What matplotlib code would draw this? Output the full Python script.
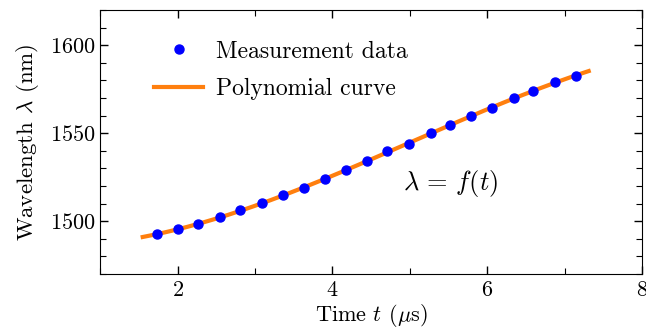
import numpy as np
import matplotlib
matplotlib.use("Agg")
import matplotlib.pyplot as plt
from matplotlib.ticker import MultipleLocator

plt.rcParams['font.family'] = ['cmr10', 'DejaVu Serif']
plt.rcParams['mathtext.fontset'] = 'cm'
plt.rcParams['axes.formatter.use_mathtext'] = True

# Measurement data
t_data = [1.735, 2.00, 2.27, 2.55, 2.81, 3.09, 3.36, 3.63, 3.91, 4.17,
          4.45, 4.71, 4.99, 5.27, 5.52, 5.79, 6.06, 6.34, 6.59, 6.88, 7.14]
lam_data = [1492.4, 1495.3, 1498.5, 1502.3, 1506.1, 1510.4, 1514.6, 1518.8,
            1523.9, 1528.8, 1533.9, 1539.6, 1544.1, 1549.8, 1554.5, 1559.8,
            1564.4, 1570.1, 1574.2, 1578.8, 1582.4]
# Polynomial curve range
t_curve_range = [1.55, 7.31]

coef = np.polyfit(t_data, lam_data, 3)
t_curve = np.linspace(t_curve_range[0], t_curve_range[1], 200)
lam_curve = np.polyval(coef, t_curve)

fig = plt.figure(figsize=(6.46, 3.32), dpi=100)
ax = fig.add_axes([0.155, 0.175, 0.839, 0.795])

ax.plot(t_curve, lam_curve, color='#ff7f0e', lw=3, label='Polynomial curve', zorder=2)
ax.plot(t_data, lam_data, 'o', color='#0000ff', ms=6.5, label='Measurement data',
        linestyle='none', zorder=3)

ax.set_xlim(1, 8)
ax.set_ylim(1470, 1620)
ax.xaxis.set_major_locator(MultipleLocator(2))
ax.xaxis.set_minor_locator(MultipleLocator(1))
ax.yaxis.set_major_locator(MultipleLocator(50))
ax.yaxis.set_minor_locator(MultipleLocator(10))
ax.tick_params(which='both', direction='in', top=True, right=True, labelsize=16)
ax.tick_params(which='major', length=6, width=1)
ax.tick_params(which='minor', length=4, width=0.8)
ax.tick_params(axis='x', pad=5)

ax.set_xlabel(r'Time $t$ ($\mu$s)', fontsize=16, labelpad=1)
ax.set_ylabel(r'Wavelength $\lambda$ (nm)', fontsize=16.5, labelpad=6)

handles, labels = ax.get_legend_handles_labels()
ax.legend(handles[::-1], labels[::-1], loc='upper left', frameon=False, fontsize=17,
          bbox_to_anchor=(0.06, 0.965), handlelength=2.1, handletextpad=0.55,
          labelspacing=0.65)

ax.text(4.91, 1521.6, r'$\lambda\, =\, f(t)$', fontsize=19, va='center', ha='left')

fig.savefig('out.png', dpi=100)
